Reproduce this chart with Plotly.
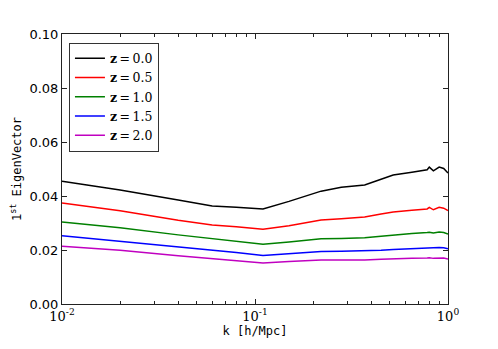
import plotly.graph_objects as go

k = [0.01, 0.02, 0.04, 0.06, 0.08, 0.11, 0.15, 0.22, 0.28, 0.37, 0.45, 0.52, 0.65, 0.78, 0.80, 0.84, 0.90, 0.95, 1.0]

z00 = [0.0455, 0.0422, 0.0385, 0.0363, 0.0358, 0.0352, 0.0380, 0.0418, 0.0432, 0.0441, 0.0462, 0.0478, 0.0488, 0.0497, 0.0507, 0.0493, 0.0507, 0.0502, 0.0485]
z05 = [0.0374, 0.0345, 0.0310, 0.0293, 0.0286, 0.0277, 0.0290, 0.0311, 0.0316, 0.0322, 0.0333, 0.0341, 0.0347, 0.0352, 0.0358, 0.0349, 0.0358, 0.0355, 0.0346]
z10 = [0.0304, 0.0282, 0.0256, 0.0241, 0.0232, 0.0221, 0.0230, 0.0242, 0.0243, 0.0245, 0.0251, 0.0256, 0.0261, 0.0265, 0.0266, 0.0263, 0.0267, 0.0265, 0.0259]
z15 = [0.0253, 0.0233, 0.0212, 0.0200, 0.0191, 0.0180, 0.0187, 0.0194, 0.0195, 0.0196, 0.0199, 0.0202, 0.0205, 0.0208, 0.0209, 0.0207, 0.0209, 0.0208, 0.0205]
z20 = [0.0214, 0.0199, 0.0179, 0.0168, 0.0160, 0.0152, 0.0157, 0.0163, 0.0163, 0.0163, 0.0166, 0.0168, 0.0169, 0.0170, 0.0171, 0.0169, 0.0171, 0.0170, 0.0167]

series = [("0.0", z00, "black"), ("0.5", z05, "red"), ("1.0", z10, "green"),
          ("1.5", z15, "blue"), ("2.0", z20, "#c000c0")]

xtick_vals = [0.01, 0.1, 1]
xtick_text = ["10<sup>-2</sup>", "10<sup>-1</sup>", "10<sup>0</sup>"]
ytick_vals = [0.0, 0.02, 0.04, 0.06, 0.08, 0.10]
ytick_text = ["0.00", "0.02", "0.04", "0.06", "0.08", "0.10"]
minor_vals = [m * 10 ** e for e in (-2, -1) for m in range(2, 10)]

fig = go.Figure()
for zval, ys, col in series:
    fig.add_trace(go.Scatter(x=k, y=ys, mode="lines", name="<b>z</b>\u2009=\u2009" + zval,
                             line=dict(color=col, width=1.5)))

axis_common = dict(showline=True, linecolor="#222", linewidth=1, mirror="ticks",
                   ticks="inside", tickcolor="#222", showgrid=False, zeroline=False,
                   automargin=False)

# the page body adds an 8px offset, so margins are shifted to compensate
fig.update_layout(
    width=498, height=349,
    margin=dict(l=54, r=58, t=26, b=53),
    plot_bgcolor="white", paper_bgcolor="white",
    font=dict(family="DejaVu Sans", size=13, color="black"),
    xaxis=dict(type="log", range=[-2, 0], tickvals=xtick_vals, ticktext=xtick_text,
               ticklen=5, tickfont=dict(family="DejaVu Serif", size=13),
               minor=dict(ticks="inside", ticklen=3, tickcolor="#222", tickvals=minor_vals),
               title=dict(text="k [h/Mpc]", font=dict(family="DejaVu Sans Mono, Liberation Mono", size=12), standoff=2),
               **axis_common),
    yaxis=dict(range=[0, 0.10], tickvals=ytick_vals, ticktext=ytick_text, ticklen=5,
               tickfont=dict(family="DejaVu Sans", size=13),
               title=dict(text="1<sup>st</sup> EigenVector", font=dict(family="DejaVu Sans Mono, Liberation Mono", size=12), standoff=6),
               **axis_common),
    legend=dict(x=0.018, y=0.968, xanchor="left", yanchor="top",
                bordercolor="#333", borderwidth=1, bgcolor="white",
                font=dict(family="DejaVu Serif", size=12.5), tracegroupgap=0,
                itemwidth=30),
    showlegend=True,
)

fig.write_html("out.html")
